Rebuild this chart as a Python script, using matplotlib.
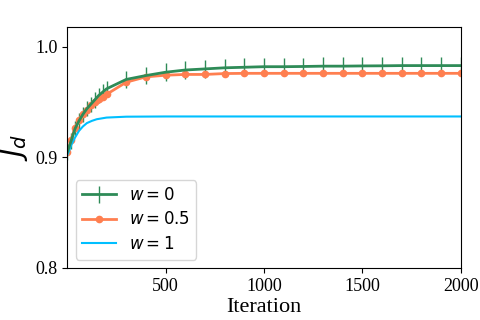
import matplotlib
matplotlib.use("Agg")
import matplotlib.pyplot as plt

plt.rcParams['font.family'] = ['Liberation Serif', 'DejaVu Serif']

# sample iterations for w=0 and w=0.5
iters = [1, 20, 40, 60, 80, 100, 120, 140, 160, 180, 200,
         300, 400, 500, 600, 700, 800, 900, 1000, 1100, 1200, 1300,
         1400, 1500, 1600, 1700, 1800, 1900, 2000]
jd_w0 = [0.905, 0.915, 0.926, 0.933, 0.939, 0.944, 0.948, 0.952, 0.956, 0.959, 0.962,
         0.9705, 0.974, 0.977, 0.979, 0.980, 0.981, 0.9815, 0.982, 0.982, 0.9822, 0.9825,
         0.9825, 0.9827, 0.9828, 0.983, 0.983, 0.983, 0.983]
err_w0 = [0.007] * 11 + [0.008] * 18
jd_w05 = [0.9045, 0.916, 0.927, 0.934, 0.939, 0.943, 0.947, 0.950, 0.953, 0.955, 0.957,
          0.968, 0.9728, 0.9743, 0.975, 0.975, 0.9758, 0.976, 0.976, 0.976, 0.976, 0.976,
          0.976, 0.976, 0.976, 0.976, 0.976, 0.976, 0.976]

iters_w1 = [0, 10, 20, 40, 60, 80, 100, 125, 150, 200, 300, 500, 1000, 2000]
jd_w1 = [0.902, 0.906, 0.911, 0.918, 0.924, 0.928, 0.931, 0.933, 0.9345, 0.936,
         0.9368, 0.937, 0.937, 0.937]

labels = ['$w=0$', '$w=0.5$', '$w=1$']
xticks = [500, 1000, 1500, 2000]
yticks = [0.8, 0.9, 1.0]

fig = plt.figure(figsize=(4.8, 3.2), dpi=100)
ax = fig.add_axes([0.14, 0.1625, 0.82, 0.7535])

h0 = ax.errorbar(iters, jd_w0, yerr=err_w0, color='seagreen', lw=2, elinewidth=1,
                 label=labels[0])
h1, = ax.plot(iters, jd_w05, color='coral', lw=2, marker='o', markersize=4.5,
              label=labels[1])
h2, = ax.plot(iters_w1, jd_w1, color='deepskyblue', lw=1.5, label=labels[2])

ax.set_xlim(0, 2000)
ax.set_ylim(0.8, 1.018)
ax.set_xticks(xticks)
ax.set_yticks(yticks)
ax.set_yticklabels(['0.8', '0.9', '1.0'])
ax.tick_params(labelsize=13)
ax.set_xlabel('Iteration', fontsize=16, labelpad=2)
ax.set_ylabel('$J_d$', fontsize=20)
ax.legend([h0, h1, h2], labels, loc='lower left', fontsize=12, handlelength=2.0,
          handletextpad=0.8, labelspacing=0.45)

fig.savefig('out.png', dpi=100)
